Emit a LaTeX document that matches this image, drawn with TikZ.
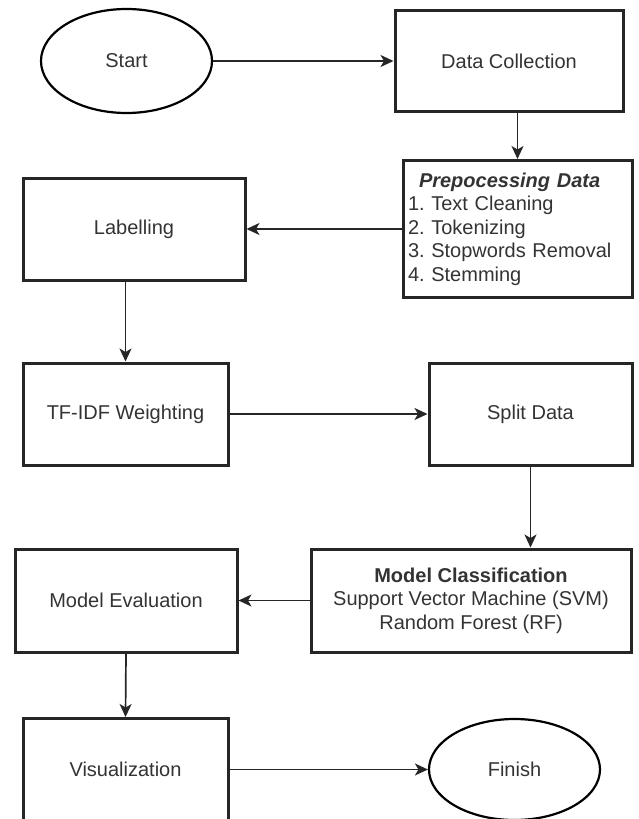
\documentclass[tikz,border=0pt]{standalone}
\usepackage{fontspec}
\setmainfont{Liberation Sans}
\frenchspacing
\usetikzlibrary{shapes.geometric,arrows.meta}
\tikzset{
  procbox/.style={draw=black!85, line width=3pt, rectangle, inner sep=0pt, text=black!80, font=\fontsize{20}{23.5}\selectfont},
  termnode/.style={draw=black, line width=2.2pt, ellipse, inner sep=0pt, text=black!80, font=\fontsize{20}{23.5}\selectfont},
  arr/.style={draw=black!85, line width=1.7pt, -{Stealth[length=13pt,width=12pt,inset=3.5pt]}}
}
\begin{document}
\begin{tikzpicture}[x=1pt,y=-1pt]
\useasboundingbox (0,0) rectangle (638,819);
\node[termnode, minimum width=171pt, minimum height=104pt] (start) at (126.5,61) {Start};
\node[procbox, minimum width=228pt, minimum height=101pt] (dc) at (509,61) {Data Collection};
\node[procbox, minimum width=229pt, minimum height=137pt, text width=219pt, align=left] (prep) at (517.5,229)
  {\hspace*{11pt}\textbf{\textit{Prepocessing Data}}\\1. Text Cleaning\\2. Tokenizing\\3. Stopwords Removal\\4. Stemming};
\node[procbox, minimum width=222pt, minimum height=102pt] (lab) at (134,229) {Labelling};
\node[procbox, minimum width=205pt, minimum height=102pt] (tfidf) at (125.5,414) {TF-IDF Weighting};
\node[procbox, minimum width=203pt, minimum height=102pt] (split) at (530.5,414) {Split Data};
\node[procbox, minimum width=320pt, minimum height=103pt, align=center] (mc) at (471,600.5)
  {\textbf{Model Classification}\\Support Vector Machine (SVM)\\Random Forest (RF)};
\node[procbox, minimum width=222pt, minimum height=103pt] (me) at (126,600.5) {Model Evaluation};
\node[procbox, minimum width=205pt, minimum height=102pt] (vis) at (125.5,769.5) {Visualization};
\node[termnode, minimum width=171pt, minimum height=101pt] (finish) at (514.5,769.5) {Finish};

\draw[arr] (start.east) -- (dc.west);
\draw[arr] (dc.south -| prep.north) -- (prep.north);
\draw[arr] (prep.west) -- (lab.east);
\draw[arr] (lab.south -| tfidf.north) -- (tfidf.north);
\draw[arr] (tfidf.east) -- (split.west);
\draw[arr] (split.south) -- (split.south |- mc.north);
\draw[arr] (mc.west) -- (me.east);
\draw[arr] (me.south) -- (vis.north);
\draw[arr] (vis.east) -- (finish.west);
\end{tikzpicture}
\end{document}
